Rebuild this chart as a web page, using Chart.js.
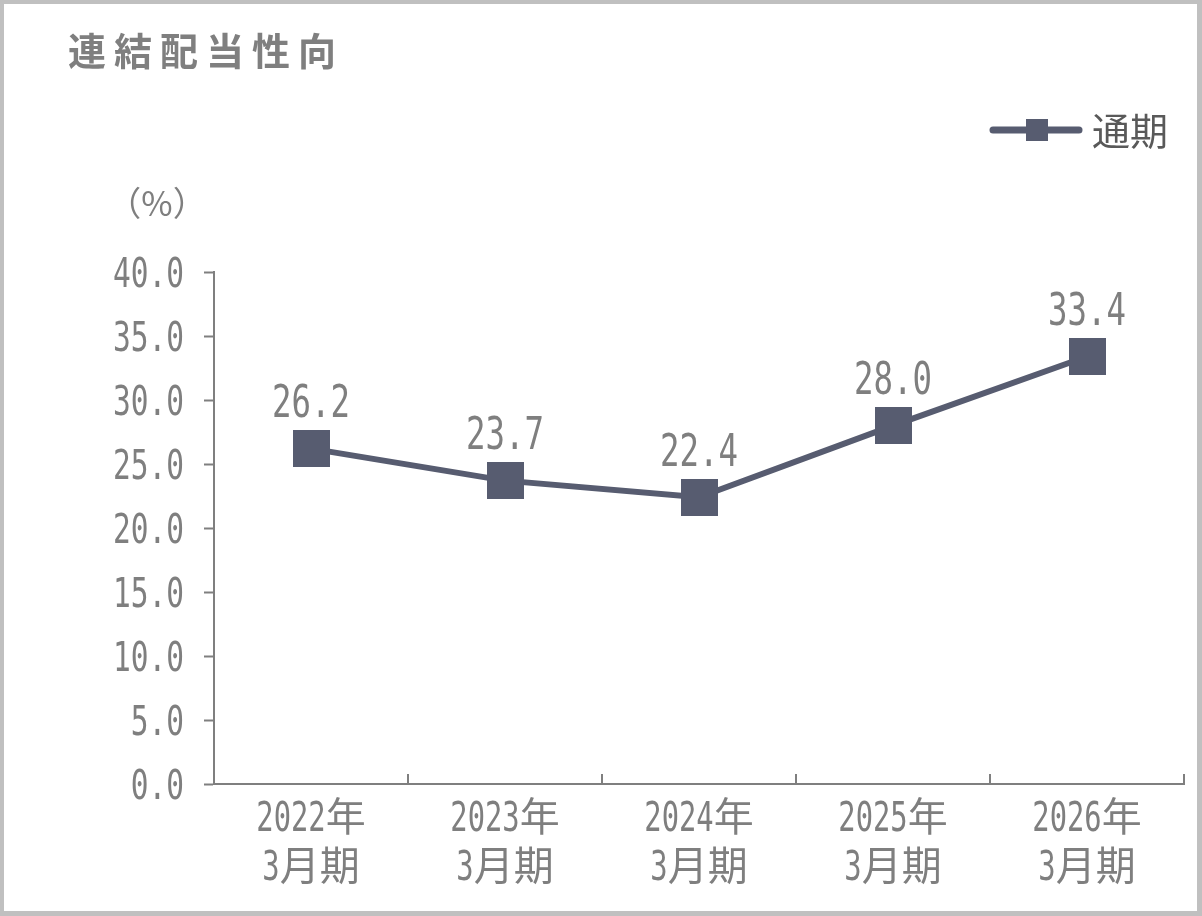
<!DOCTYPE html>
<html><head><meta charset="utf-8">
<script src="https://cdn.jsdelivr.net/npm/chart.js@4.4.1/dist/chart.umd.min.js"></script>
<style>html,body{margin:0;padding:0;background:#fff;overflow:hidden}#wrap{width:1202px;height:916px}canvas{display:block}</style>
</head><body><div id="wrap"><canvas id="c" width="1202" height="916"></canvas></div>
<script>
const categories = [["2022年","3月期"],["2023年","3月期"],["2024年","3月期"],["2025年","3月期"],["2026年","3月期"]];
const payoutRatio = [26.2, 23.7, 22.4, 28.0, 33.4];
const yMin = 0, yMax = 40, yStep = 5;
const titleText = "連結配当性向";
const seriesName = "通期";
const unitLabel = "（%）";

const NUM_FONT = '"DejaVu Sans Mono", monospace';
const CJK_FONT = '"Noto Sans CJK JP", sans-serif';
const CONDENSE = 0.72;
const GRAY = '#7f7f7f';
const SERIES = '#575c70';

// square marker image (drawn by Chart.js as the point style)
const marker = document.createElement('canvas');
marker.width = 37; marker.height = 37;
{ const m = marker.getContext('2d'); m.fillStyle = SERIES; m.fillRect(0, 0, 37, 37); }

function drawMixed(ctx, text, x, y, align, numSize, cjkSize) {
  const runs = text.match(/[\x00-\x7F]+|[^\x00-\x7F]+/g) || [];
  const parts = runs.map(r => {
    const ascii = /^[\x00-\x7F]+$/.test(r);
    ctx.font = ascii ? `${numSize}px ${NUM_FONT}` : `${cjkSize}px ${CJK_FONT}`;
    const w = ctx.measureText(r).width * (ascii ? CONDENSE : 1);
    return { r, ascii, w };
  });
  const total = parts.reduce((s, p) => s + p.w, 0);
  let cx = align === 'right' ? x - total : align === 'center' ? x - total / 2 : x;
  const baseline = y + numSize * 0.729 / 2;
  ctx.textAlign = 'left';
  ctx.textBaseline = 'alphabetic';
  parts.forEach(p => {
    ctx.font = p.ascii ? `${numSize}px ${NUM_FONT}` : `${cjkSize}px ${CJK_FONT}`;
    ctx.fillText(p.r, cx, baseline, p.w);
    cx += p.w;
  });
}

const decorPlugin = {
  id: 'decor',
  beforeDraw(chart) {
    const ctx = chart.ctx, W = chart.width, H = chart.height;
    ctx.save();
    ctx.fillStyle = '#fff'; ctx.fillRect(0, 0, W, H);
    ctx.fillStyle = '#c0c0c0';
    ctx.fillRect(0, 0, W, 4); ctx.fillRect(0, 0, 4, H);
    ctx.fillRect(W - 5, 0, 5, H); ctx.fillRect(0, H - 5, W, 5);
    ctx.fillStyle = GRAY;
    ctx.font = 'bold 38px ' + CJK_FONT;
    ctx.textBaseline = 'middle'; ctx.textAlign = 'left';
    ctx.letterSpacing = '8px';
    ctx.fillText(titleText, 68, 51);
    ctx.letterSpacing = '0px';
    ctx.font = '34px ' + CJK_FONT;
    ctx.textAlign = 'center';
    ctx.fillText(unitLabel, 157, 203);
    ctx.strokeStyle = SERIES; ctx.lineWidth = 7; ctx.lineCap = 'round';
    ctx.beginPath(); ctx.moveTo(993, 130); ctx.lineTo(1079, 130); ctx.stroke();
    ctx.fillStyle = SERIES; ctx.fillRect(1026, 119, 22, 22);
    ctx.fillStyle = '#595959';
    ctx.font = '38px ' + CJK_FONT; ctx.textAlign = 'left';
    ctx.fillText(seriesName, 1092, 131);
    ctx.restore();
  },
  afterDraw(chart) {
    const ctx = chart.ctx, a = chart.chartArea, n = categories.length;
    const xs = chart.scales.x, ys = chart.scales.y;
    ctx.save();
    ctx.strokeStyle = GRAY; ctx.lineWidth = 2;
    for (let i = 1; i <= n; i++) {
      const x = Math.round(a.left + i * (a.right - a.left) / n);
      ctx.beginPath(); ctx.moveTo(x, a.bottom); ctx.lineTo(x, a.bottom - 10); ctx.stroke();
    }
    ctx.fillStyle = GRAY;
    ys.ticks.forEach(t => {
      drawMixed(ctx, t.value.toFixed(1), ys.left + ys.width - 30, ys.getPixelForValue(t.value), 'right', 41, 40);
    });
    categories.forEach((lines, i) => {
      const x = xs.getPixelForValue(i);
      lines.forEach((ln, j) => drawMixed(ctx, ln, x, a.bottom + 32 + j * 49, 'center', 40, 40));
    });
    ctx.restore();
  },
  afterDatasetsDraw(chart) {
    const ctx = chart.ctx;
    const meta = chart.getDatasetMeta(0);
    ctx.save();
    ctx.fillStyle = GRAY;
    meta.data.forEach((pt, i) => {
      drawMixed(ctx, payoutRatio[i].toFixed(1), pt.x, pt.y - 48, 'center', 45, 45);
    });
    ctx.restore();
  }
};

new Chart(document.getElementById('c'), {
  type: 'line',
  data: {
    labels: categories,
    datasets: [{
      label: seriesName,
      data: payoutRatio,
      borderColor: SERIES,
      borderWidth: 6,
      backgroundColor: SERIES,
      pointStyle: marker,
      pointRadius: 5,
      pointHoverRadius: 5,
      pointBackgroundColor: SERIES,
      pointBorderWidth: 0,
      tension: 0
    }]
  },
  options: {
    responsive: false,
    devicePixelRatio: 1,
    animation: false,
    events: [],
    layout: { padding: { top: 272, right: 18, bottom: 0, left: 0 } },
    plugins: { legend: { display: false }, title: { display: false }, tooltip: { enabled: false } },
    scales: {
      x: {
        type: 'category',
        offset: true,
        grid: { display: false },
        border: { display: true, color: GRAY, width: 2 },
        ticks: { display: false },
        afterFit(s) { s.height = 132; }
      },
      y: {
        min: yMin, max: yMax,
        grid: { drawOnChartArea: false, drawTicks: true, tickLength: 10, tickWidth: 2, tickColor: GRAY },
        border: { display: true, color: GRAY, width: 2 },
        ticks: { stepSize: yStep, display: false },
        afterFit(s) { s.width = 214; }
      }
    }
  },
  plugins: [decorPlugin]
});
</script>
</body></html>
